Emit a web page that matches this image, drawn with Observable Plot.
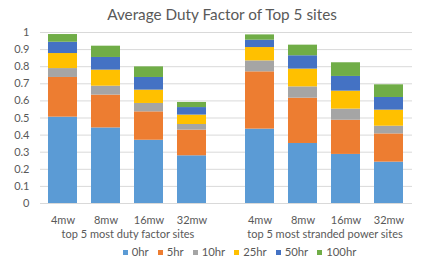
<!DOCTYPE html>
<html>
<head>
<meta charset="utf-8">
<script src="https://cdn.jsdelivr.net/npm/d3@7"></script>
<script src="https://cdn.jsdelivr.net/npm/@observablehq/plot@0.6"></script>
<style>
  body { margin: 0; background: #fff; font-family: Lato, "Open Sans", sans-serif; color: #595959; }
  #wrap { width: 436px; height: 263px; overflow: hidden; }
  #title { height: 25px; line-height: 28px; text-align: center; font-size: 15.3px; color: #595959; padding-left: 8px; }
  #legend { display: flex; justify-content: center; gap: 9px; font-size: 11.3px; line-height: 12px; margin-top: 6px; padding-left: 43px; }
  #legend span.item { display: flex; align-items: center; gap: 4px; }
  #legend span.sw { width: 5px; height: 5px; display: inline-block; }
</style>
</head>
<body>
<div id="wrap">
  <div id="title">Average Duty Factor of Top 5 sites</div>
  <div id="chart"></div>
  <div id="legend"></div>
</div>
<script>
const groups = ["top 5 most duty factor sites", "top 5 most stranded power sites"];
const sizes = ["4mw", "8mw", "16mw", "32mw"];
const series = ["0hr", "5hr", "10hr", "25hr", "50hr", "100hr"];
const colors = ["#5B9BD5", "#ED7D31", "#A5A5A5", "#FFC000", "#4472C4", "#70AD47"];
const yTicks = [0, 0.1, 0.2, 0.3, 0.4, 0.5, 0.6, 0.7, 0.8, 0.9, 1];

// segment values per series, order: group1 (4,8,16,32mw), group2 (4,8,16,32mw)
const v0hr   = [0.505, 0.442, 0.370, 0.279, 0.435, 0.351, 0.287, 0.242];
const v5hr   = [0.232, 0.192, 0.166, 0.150, 0.335, 0.265, 0.200, 0.165];
const v10hr  = [0.052, 0.052, 0.049, 0.033, 0.064, 0.066, 0.065, 0.045];
const v25hr  = [0.088, 0.094, 0.078, 0.055, 0.078, 0.104, 0.105, 0.094];
const v50hr  = [0.066, 0.074, 0.074, 0.044, 0.043, 0.078, 0.086, 0.074];
const v100hr = [0.045, 0.066, 0.062, 0.030, 0.031, 0.062, 0.080, 0.074];

const values = [v0hr, v5hr, v10hr, v25hr, v50hr, v100hr];
const data = [];
series.forEach((s, si) => {
  values[si].forEach((v, i) => {
    data.push({group: groups[Math.floor(i / 4)], size: sizes[i % 4], series: s, value: v});
  });
});

const grid0 = yTicks.map(t => ({y: t, group: groups[0]}));
const grid1 = yTicks.map(t => ({y: t, group: groups[1]}));

const chart = Plot.plot({
  width: 436,
  height: 215,
  marginLeft: 40,
  marginRight: 24,
  marginTop: 7,
  marginBottom: 37,
  style: {fontFamily: "Lato, 'Open Sans', sans-serif", fontSize: "11px", color: "#595959", background: "white"},
  fx: {domain: groups, paddingInner: 0.1117, paddingOuter: 0, axis: "bottom", tickSize: 0, tickPadding: 27, label: null},
  x: {domain: sizes, paddingInner: 0.318, paddingOuter: 0.148, tickSize: 0, tickPadding: 13, label: null},
  y: {domain: [0, 1], ticks: yTicks, tickFormat: d => String(d), tickSize: 0, tickPadding: 11, label: null},
  color: {domain: series, range: colors},
  facet: {marginTop: 0, marginBottom: 0, marginLeft: 0, marginRight: 0},
  marks: [
    Plot.ruleY(grid0, {y: "y", fx: "group", stroke: "#d9d9d9", strokeWidth: 1, insetRight: -22}),
    Plot.ruleY(grid1, {y: "y", fx: "group", stroke: "#d9d9d9", strokeWidth: 1}),
    Plot.barY(data, Plot.stackY({x: "size", y: "value", fx: "group", fill: "series", order: series}))
  ]
});
document.getElementById("chart").appendChild(chart);

const legend = document.getElementById("legend");
series.forEach((s, i) => {
  const item = document.createElement("span");
  item.className = "item";
  const sw = document.createElement("span");
  sw.className = "sw";
  sw.style.background = colors[i];
  item.appendChild(sw);
  item.appendChild(document.createTextNode(s));
  legend.appendChild(item);
});
</script>
</body>
</html>
